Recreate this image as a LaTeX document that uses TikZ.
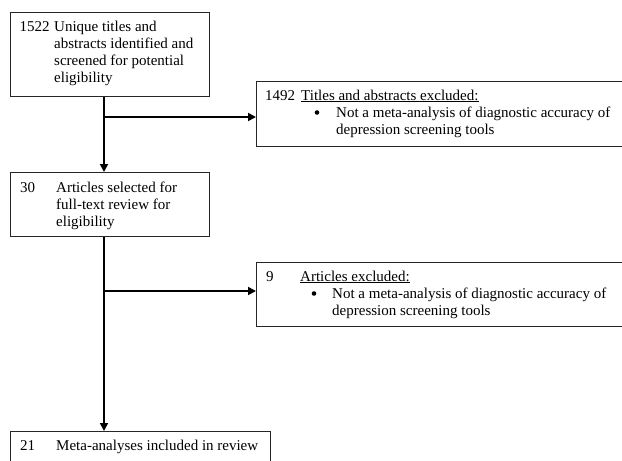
\documentclass[tikz,border=0pt]{standalone}
\usepackage{fontspec}
\setmainfont{Liberation Serif}
\usetikzlibrary{arrows.meta}
\begin{document}
\begin{tikzpicture}[x=1pt,y=-1pt,
  box/.style={draw=black!85, line width=1.3pt, rectangle, inner sep=0pt, anchor=north west},
  conn/.style={draw=black, line width=1.7pt},
  arr/.style={conn, -{Triangle[length=8pt,width=8pt]}},
  txt/.style={anchor=base west, inner sep=0pt, font=\fontsize{15}{17.2}\selectfont},
  bul/.style={circle, fill=black, inner sep=0pt, minimum size=4.6pt}]
\useasboundingbox (0,0) rectangle (622,461);
\clip (0,0) rectangle (622,461);
% boxes
\node[box, minimum width=199pt, minimum height=84pt] (b1) at (10,12) {};
\node[box, minimum width=380pt, minimum height=65pt] (b2) at (256,81) {};
\node[box, minimum width=199pt, minimum height=64pt] (b3) at (10,172) {};
\node[box, minimum width=380pt, minimum height=64pt] (b4) at (256,262) {};
\node[box, minimum width=260pt, minimum height=60pt] (b5) at (10,431) {};
% box 1 text
\node[txt] (n1) at (19.5,31) {1522};
\node[txt] (t1a) at (54,31) {Unique titles and};
\node[txt] (t1b) at (54,48.2) {abstracts identified and};
\node[txt] (t1c) at (54,65.4) {screened for potential};
\node[txt] (t1d) at (54,82.6) {eligibility};
% box 2 text
\node[txt] (n2) at (265,100) {1492};
\node[txt] (t2a) at (301,100) {\underline{Titles and abstracts excluded:}};
\node[bul] (u2) at (317,112.5) {};
\node[txt] (t2b) at (336,117.2) {Not a meta-analysis of diagnostic accuracy of};
\node[txt] (t2c) at (336,134.4) {depression screening tools};
% box 3 text
\node[txt] (n3) at (20,192) {30};
\node[txt] (t3a) at (56,192) {Articles selected for};
\node[txt] (t3b) at (56,209.2) {full-text review for};
\node[txt] (t3c) at (56,226.4) {eligibility};
% box 4 text
\node[txt] (n4) at (266,281) {9};
\node[txt] (t4a) at (300,281) {\underline{Articles excluded:}};
\node[bul] (u4) at (314,293.5) {};
\node[txt] (t4b) at (332,298.2) {Not a meta-analysis of diagnostic accuracy of};
\node[txt] (t4c) at (332,315.4) {depression screening tools};
% box 5 text
\node[txt] (n5) at (20,450) {21};
\node[txt] (t5a) at (56,450) {Meta-analyses included in review};
% connectors
\coordinate (spine) at (104,0);
\coordinate (j1) at (104,117);
\coordinate (j2) at (104,291);
\draw[arr] (b1.south -| spine) -- (b3.north -| spine);
\draw[arr] (j1) -- (j1 -| b2.west);
\draw[arr] (b3.south -| spine) -- (b5.north -| spine);
\draw[arr] (j2) -- (j2 -| b4.west);
\end{tikzpicture}
\end{document}
